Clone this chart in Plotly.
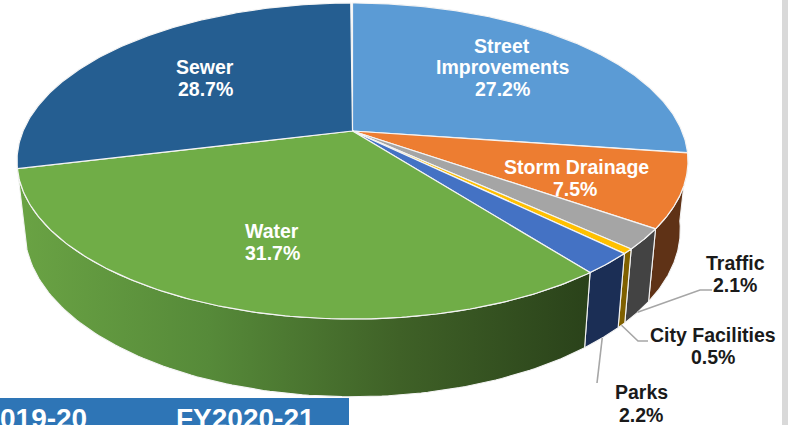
import numpy as np
import plotly.graph_objects as go

# Capital programme shares, clockwise from twelve o'clock
categories = ["Street Improvements", "Storm Drainage", "Traffic", "City Facilities", "Parks", "Water", "Sewer"]
shares = [27.2, 7.5, 2.1, 0.5, 2.2, 31.7, 28.7]
top_colors = ["#5b9bd5", "#ed7d31", "#a5a5a5", "#ffc000", "#4472c4", "#70ad47", "#255e91"]
wall_colors = ["#2f5d86", "#5f3216", "#434343", "#7f6000", "#1b2e55", None, "#173a5a"]
water_wall_stops = ["#6aa344", "#568a39", "#3f6127", "#2a421a"]
banner_labels = ["019-20", "FY2020-21"]

# Perspective camera for the tilted disc
CX, CY = 352.5, 131.0
K, A, B = 0.19, 329.4, 152.3


def project(angle):
    """Project a clockwise-from-top angle on the unit circle to page coordinates."""
    u, v = np.sin(angle), -np.cos(angle)
    d = 1 - K * v
    return CX + A * u / d, CY + B * v / d


def lower_rim(x, y):
    """Map a point on the upper rim to the matching point on the lower rim."""
    return CX + 0.977 * (x - CX), y + 69 + 0.055 * (y - 161)


bounds = np.radians(np.concatenate([[0], np.cumsum(shares)]) * 3.6)
fig = go.Figure()

# Side walls first, so the top face covers the hidden parts
for i, name in enumerate(categories):
    if wall_colors[i] is None or i in (0, 6):
        if i in (0, 6):
            continue
    t = np.linspace(bounds[i], bounds[i + 1], 120)
    x, y = project(t)
    bx, by = lower_rim(x, y)
    px = np.concatenate([x, bx[::-1], x[:1]])
    py = np.concatenate([y, by[::-1], y[:1]])
    style = dict(fillcolor=wall_colors[i])
    if wall_colors[i] is None:
        n = len(water_wall_stops) - 1
        style = dict(fillgradient=dict(
            type="horizontal",
            colorscale=[[j / n, c] for j, c in enumerate(water_wall_stops)],
            start=float(px.min()), stop=float(px.max()),
        ))
    fig.add_trace(go.Scatter(x=px, y=py, mode="lines", fill="toself",
                             line=dict(color="#f4f4f4", width=1.1),
                             hoverinfo="skip", showlegend=False, **style))

# Top face wedges
for i, name in enumerate(categories):
    t = np.linspace(bounds[i], bounds[i + 1], 160)
    x, y = project(t)
    fig.add_trace(go.Scatter(x=np.concatenate([[CX], x, [CX]]),
                             y=np.concatenate([[CY], y, [CY]]),
                             mode="lines", fill="toself", fillcolor=top_colors[i],
                             line=dict(color="#f4f4f4", width=1.2),
                             name=name, hoverinfo="name", showlegend=False))

# Leader lines start on the lower rim at each small wedge's middle
mid = (bounds[:-1] + bounds[1:]) / 2
leaders = {2: [(700, 290), (712, 290)], 3: [(638, 341), (648, 341)], 4: [(597, 383)]}
for i, bend in leaders.items():
    sx, sy = lower_rim(*project(mid[i]))
    fig.add_trace(go.Scatter(x=[sx] + [p[0] for p in bend], y=[sy] + [p[1] for p in bend],
                             mode="lines", line=dict(color="#a6a6a6", width=1.6),
                             hoverinfo="skip", showlegend=False))

annotations = []


def label(cx, cy, text, color, size=19.5, anchor="center"):
    annotations.append(dict(x=cx, y=cy, xref="x", yref="y", text=f"<b>{text}</b>", showarrow=False,
                            xanchor=anchor, yanchor="middle", borderpad=0,
                            font=dict(family="Liberation Sans, Arial, sans-serif", size=size, color=color)))


def pct(i):
    return f"{shares[i]}%"


label(502, 46, "Street", "white")
label(502, 67, "Improvements", "white")
label(502, 89, pct(0), "white")
label(576, 167, "Storm Drainage", "white")
label(575, 189, pct(1), "white")
label(735, 263, categories[2], "#1a1a1a")
label(735, 285, pct(2), "#1a1a1a")
label(713, 335, categories[3], "#1a1a1a")
label(713, 357, pct(3), "#1a1a1a")
label(641, 392, categories[4], "#1a1a1a")
label(641, 415, pct(4), "#1a1a1a")
label(272, 231, categories[5], "white")
label(272, 253, pct(5), "white")
label(205, 67, categories[6], "white")
label(205, 89, pct(6), "white")
label(88, 418, banner_labels[0], "white", size=28, anchor="right")
label(245, 418, banner_labels[1], "white", size=28)

fig.update_layout(
    width=788, height=425, margin=dict(l=0, r=0, t=0, b=0),
    paper_bgcolor="white", plot_bgcolor="white", showlegend=False,
    xaxis=dict(range=[0, 788], visible=False, fixedrange=True),
    yaxis=dict(range=[425, 0], visible=False, fixedrange=True),
    annotations=annotations,
    shapes=[
        dict(type="rect", xref="x", yref="y", x0=0, x1=349, y0=398, y1=425,
             fillcolor="#2e75b6", line_width=0, layer="below"),
        dict(type="rect", xref="x", yref="y", x0=782, x1=788, y0=0, y1=425,
             fillcolor="#d9d9d9", line_width=0, layer="below"),
    ],
)

fig.write_html("out.html", config=dict(displayModeBar=False))
